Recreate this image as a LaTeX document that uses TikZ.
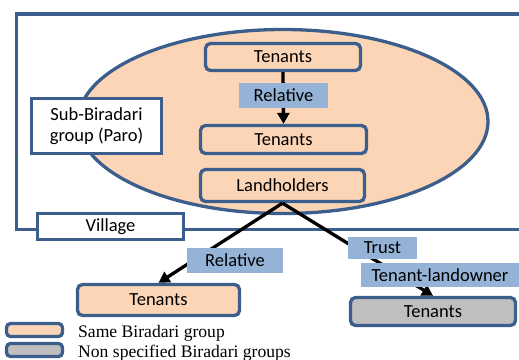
\documentclass[tikz,border=0pt]{standalone}
\usepackage{fontspec}
\setmainfont{Carlito}
\newfontfamily\legendfont{Liberation Serif}
\usetikzlibrary{arrows.meta}
\definecolor{edgeblue}{HTML}{3B5E8C}
\definecolor{peach}{HTML}{FBD5B5}
\definecolor{tagblue}{HTML}{95B3D7}
\definecolor{greyfill}{HTML}{BFBFBF}
\tikzset{
  txt/.style={font=\fontsize{18.5}{21}\selectfont, text=black},
  roundbox/.style={txt, draw=edgeblue, line width=3.3pt, rounded corners=5pt, fill=peach, inner sep=0pt},
  plainbox/.style={txt, draw=edgeblue, line width=3.3pt, fill=white, inner sep=0pt, align=center},
  tag/.style={txt, fill=tagblue, inner sep=0pt},
  link/.style={line width=3.3pt, black},
  linkarrow/.style={link, -{Triangle[length=11pt,width=12pt]}},
  legendbox/.style={draw=edgeblue, line width=3.3pt, rounded corners=4pt, minimum width=56pt, minimum height=13pt, inner sep=0pt},
  legendtext/.style={font=\legendfont\fontsize{17.6}{20}\selectfont, inner sep=0pt, anchor=base west}
}
\begin{document}
\begin{tikzpicture}[x=1pt,y=-1pt]
  \useasboundingbox (0,0) rectangle (519,359);
  \begin{scope}
    \clip (0,0) rectangle (519,359);
    % village frame running off the right edge
    \draw[edgeblue, line width=3.3pt] (16.5,14) rectangle (540,229.3);
    % sub-biradari ellipse
    \draw[edgeblue, line width=3.3pt, fill=peach] (283,121.5) ellipse [x radius=205, y radius=92];
  \end{scope}

  \node[plainbox, minimum width=130pt, minimum height=55pt] (sub) at (96.5,126) {Sub-Biradari\\group (Paro)};
  \node[plainbox, minimum width=146pt, minimum height=26pt] (village) at (110.5,226.5) {Village};

  \node[roundbox, minimum width=155pt, minimum height=27pt] (tenA) at (283,57) {Tenants};
  \node[roundbox, minimum width=166pt, minimum height=28pt] (tenB) at (283.5,139.5) {Tenants};
  \node[roundbox, minimum width=164pt, minimum height=32pt] (land) at (282.5,185.5) {Landholders};
  \node[roundbox, minimum width=162pt, minimum height=31pt] (tenL) at (158.5,300) {Tenants};
  \node[roundbox, fill=greyfill, minimum width=165pt, minimum height=28pt] (tenR) at (433,311.5) {Tenants};

  % connectors
  \draw[linkarrow] (tenA.south) -- (tenB.north);
  \draw[linkarrow] (land.south) -- (tenL.north);
  \draw[linkarrow] (land.south) -- (tenR.north);

  % relation labels
  \node[tag, minimum width=89pt, minimum height=25pt] (relA) at (283.5,95.5) {Relative};
  \node[tag, minimum width=96pt, minimum height=25pt] (relB) at (235,260.5) {Relative};
  \node[tag, minimum width=69pt, minimum height=22pt] (trust) at (382.5,248) {Trust};
  \node[tag, minimum width=158pt, minimum height=24pt] (tl) at (440,275) {Tenant-landowner};

  % legend
  \node[legendbox, fill=peach] (keyA) at (34.5,330) {};
  \node[legendbox, fill=greyfill] (keyB) at (34.5,350) {};
  \node[legendtext] (keyAt) at (78,337.7) {Same Biradari group};
  \node[legendtext] (keyBt) at (78,357.5) {Non specified Biradari groups};
\end{tikzpicture}
\end{document}
